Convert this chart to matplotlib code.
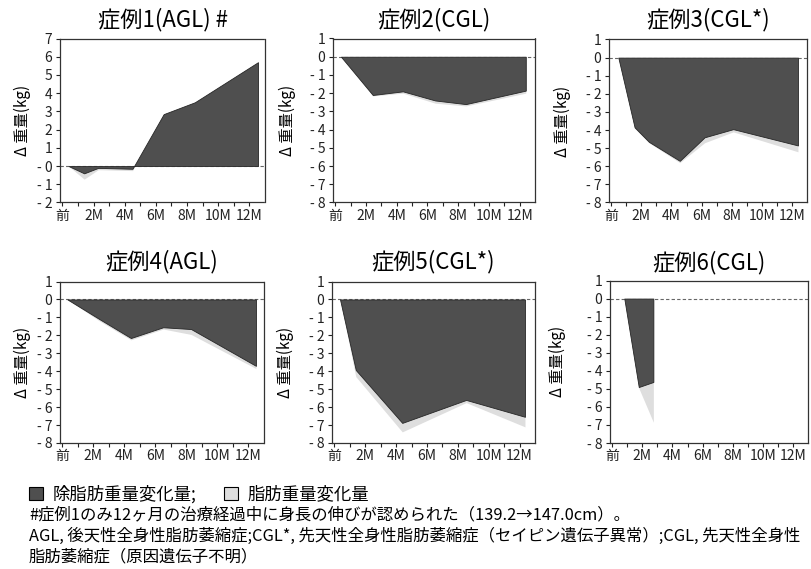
import matplotlib
matplotlib.use("Agg")
import matplotlib.pyplot as plt
from matplotlib.patches import Patch

plt.rcParams['font.family'] = ['Noto Sans CJK JP', 'DejaVu Sans']

# ---------------- data ----------------
titles = ["症例1(AGL) #", "症例2(CGL)", "症例3(CGL*)",
          "症例4(AGL)", "症例5(CGL*)", "症例6(CGL)"]

# months (x) of each measurement, lean-mass change and total (lean + fat) change in kg
case1_x = [0.4, 1.4, 2.3, 4.5, 6.5, 8.5, 12.55]
case1_lean = [0.0, -0.4, -0.1, -0.15, 2.85, 3.5, 5.7]
case1_total = [0.0, -0.72, -0.2, -0.25, 2.85, 3.5, 5.7]

case2_x = [0.37, 2.44, 4.4, 6.5, 8.5, 12.4]
case2_lean = [0.0, -2.1, -1.9, -2.4, -2.6, -1.86]
case2_total = [0.0, -2.15, -2.0, -2.55, -2.7, -2.0]

case3_x = [0.47, 1.55, 2.5, 4.55, 6.2, 8.1, 12.4]
case3_lean = [0.0, -3.85, -4.65, -5.7, -4.4, -3.95, -4.85]
case3_total = [0.0, -3.9, -4.7, -5.8, -4.7, -4.1, -5.2]

case4_x = [0.33, 2.4, 4.42, 6.5, 8.3, 12.48]
case4_lean = [0.0, -1.1, -2.15, -1.55, -1.65, -3.7]
case4_total = [0.0, -1.2, -2.25, -1.65, -1.95, -3.85]

case5_x = [0.37, 1.39, 4.4, 8.54, 12.35]
case5_lean = [0.0, -3.93, -6.88, -5.6, -6.54]
case5_total = [0.0, -4.3, -7.38, -5.75, -7.1]

case6_x = [0.8, 1.76, 2.73]
case6_lean = [0.0, -4.9, -4.62]
case6_total = [0.0, -4.95, -6.85]

cases_x = [case1_x, case2_x, case3_x, case4_x, case5_x, case6_x]
cases_lean = [case1_lean, case2_lean, case3_lean, case4_lean, case5_lean, case6_lean]
cases_total = [case1_total, case2_total, case3_total, case4_total, case5_total, case6_total]

yticks_case1 = [7, 6, 5, 4, 3, 2, 1, 0, -1, -2]
ylabels_case1 = ["7", "6", "5", "4", "3", "2", "1", "- 0", "- 1", "- 2"]
yticks_other = [1, 0, -1, -2, -3, -4, -5, -6, -7, -8]
ylabels_other = ["1", "0", "- 1", "- 2", "- 3", "- 4", "- 5", "- 6", "- 7", "- 8"]

xticks = list(range(0, 13))
xlabels = ["前", "", "2M", "", "4M", "", "6M", "", "8M", "", "10M", "", "12M"]

legend_labels = ["除脂肪重量変化量;", "脂肪重量変化量"]
note_lines = [
    "#症例1のみ12ヶ月の治療経過中に身長の伸びが認められた（139.2→147.0cm）。",
    "AGL, 後天性全身性脂肪萎縮症;CGL*, 先天性全身性脂肪萎縮症（セイピン遺伝子異常）;CGL, 先天性全身性",
    "脂肪萎縮症（原因遺伝子不明）",
]
ylabel = "Δ 重量(kg)"

# ---------------- style ----------------
W, H = 811, 569
DARK = "#4f4f4f"
LIGHT = "#dedede"

fig = plt.figure(figsize=(W / 100, H / 100), dpi=100)

# axes boxes in pixels: left, top, right, bottom
boxes = [
    (60, 38.5, 265, 202.5), (333, 38.5, 535, 202.5), (609, 39.5, 807, 202.5),
    (60, 281.5, 264, 443), (332, 281.5, 535, 443), (610, 280.5, 808, 443),
]
ylabel_px = [31, 296, 571, 31, 294, 566]
title_px = [20, 20, 20, 262, 262, 263]

for i in range(6):
    l, t, r, b = boxes[i]
    ax = fig.add_axes([l / W, 1 - b / H, (r - l) / W, (b - t) / H])
    x = cases_x[i]
    lean = cases_lean[i]
    total = cases_total[i]
    ax.fill_between(x, 0, total, color=LIGHT, lw=0)
    ax.fill_between(x, 0, lean, facecolor=DARK, edgecolor="#262626", lw=0.6)
    ax.axhline(0, color="#666666", lw=0.8, ls=(0, (3, 2)), zorder=0.5)

    if i == 0:
        ax.set_ylim(-2, 7)
        ax.set_yticks(yticks_case1)
        ax.set_yticklabels(ylabels_case1)
    else:
        ax.set_ylim(-8, 1)
        ax.set_yticks(yticks_other)
        ax.set_yticklabels(ylabels_other)
    ax.set_xlim(-0.15, 13.0)
    ax.set_xticks(xticks)
    ax.set_xticklabels(xlabels)
    ax.tick_params(axis='both', direction='out', length=3, width=0.8,
                   labelsize=10, pad=1.5, colors="#222222")
    ax.tick_params(axis='y', pad=2.5)
    for sp in ax.spines.values():
        sp.set_linestyle((0, (3, 1)))
        sp.set_linewidth(0.9)
        sp.set_color("#333333")

    ax.set_ylabel(ylabel, fontsize=11)
    ax.yaxis.set_label_coords((ylabel_px[i] - l) / (r - l), 0.5)
    fig.text((l + r) / 2 / W, 1 - title_px[i] / H, titles[i],
             fontsize=16, ha='center', va='center')

handles = [Patch(facecolor=DARK, edgecolor="black", lw=0.8),
           Patch(facecolor=LIGHT, edgecolor="black", lw=0.8)]
fig.legend(handles, legend_labels, loc='center left',
           bbox_to_anchor=(29 / W, 1 - 494 / H), ncol=2, frameon=False,
           fontsize=12.5, handlelength=0.8, handleheight=0.8,
           handletextpad=0.55, columnspacing=1.6, borderpad=0, borderaxespad=0)

note_y = [515, 536, 557]
for txt, yy in zip(note_lines, note_y):
    fig.text(29 / W, 1 - yy / H, txt, fontsize=11.8, ha='left', va='center')

fig.savefig("out.png", dpi=100)
